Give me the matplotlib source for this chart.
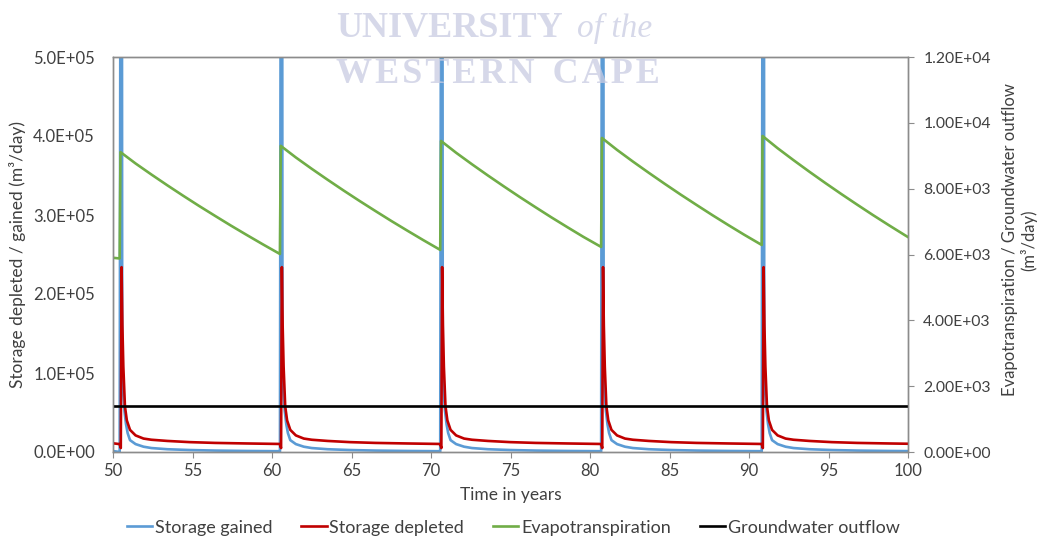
import matplotlib
matplotlib.use("Agg")
import matplotlib.pyplot as plt
from matplotlib.ticker import FuncFormatter

# ---------------- data ----------------
spike_years = [50.42, 60.5, 70.58, 80.7, 90.8]

# storage gained (left axis), profile after each recharge event
gained_offsets = [0.0, 0.11, 0.16, 0.22, 0.3, 0.4, 0.5, 0.65, 1.0, 1.5, 2.0, 3.0, 4.4, 6.0, 8.0, 10.0]
gained_values = [0.0, 1.5e6, 1.2e5, 7.5e4, 5.2e4, 3.5e4, 2.4e4, 1.5e4, 1.0e4, 6.7e3, 5.0e3,
                 3.5e3, 2.5e3, 1.8e3, 1.3e3, 1.0e3]
gained_start = (50.0, 1.2e3)

# storage depleted (left axis), profile after each recharge event
depleted_offsets = [0.0, 0.07, 0.12, 0.17, 0.23, 0.33, 0.45, 0.65, 1.0, 1.5, 2.0, 3.0, 4.4, 6.0, 8.0, 10.0]
depleted_values = [1.0e4, 5.0e3, 2.34e5, 1.6e5, 1.08e5, 5.8e4, 4.0e4, 2.8e4, 2.1e4, 1.7e4, 1.55e4,
                   1.4e4, 1.25e4, 1.15e4, 1.08e4, 1.02e4]
depleted_start = (50.0, 1.1e4)

# evapotranspiration (right axis)
et_offsets = [0.0, 0.05, 1, 2, 3, 4, 5, 6, 7, 8, 9]
et_cycles = [
    [5880, 9110, 8765, 8428, 8101, 7783, 7473, 7173, 6877, 6591, 6310],
    [6015, 9300, 8948, 8603, 8270, 7945, 7629, 7322, 7020, 6728, 6441],
    [6140, 9450, 9091, 8740, 8400, 8070, 7747, 7434, 7126, 6829, 6537],
    [6230, 9540, 9178, 8823, 8481, 8147, 7821, 7506, 7195, 6894, 6600],
    [6290, 9600, 9229, 8866, 8514, 8172, 7839, 7515, 7197, 6889, 6588],
]
et_start = (50.0, 5900)
et_end = (100.0, 6530)

# groundwater outflow (right axis)
gw_years = [50, 100]
gw_values = [1400, 1400]

x_ticks = list(range(50, 101, 5))
left_ticks = [0, 1e5, 2e5, 3e5, 4e5, 5e5]
right_ticks = [0, 2e3, 4e3, 6e3, 8e3, 1e4, 1.2e4]

# ---------------- build series ----------------
def build(start, offsets, values):
    xs, ys = [start[0]], [start[1]]
    for s in spike_years:
        for o, v in zip(offsets, values):
            xs.append(s + o)
            ys.append(v)
    return xs, ys

gx, gy = build(gained_start, gained_offsets, gained_values)
dx, dy = build(depleted_start, depleted_offsets, depleted_values)
ex, ey = [et_start[0]], [et_start[1]]
for s, cyc in zip(spike_years, et_cycles):
    for o, v in zip(et_offsets, cyc):
        ex.append(s + o)
        ey.append(v)
ex.append(et_end[0]); ey.append(et_end[1])

# ---------------- plot ----------------
plt.rcParams['font.family'] = ['Lato', 'DejaVu Sans']
fig = plt.figure(figsize=(10.39, 5.4), dpi=100)
ax = fig.add_axes([113/1039, 1-452/540, (908-113)/1039, (452-57)/540])
ax2 = ax.twinx()

blue = '#5B9BD5'; red = '#C00000'; green = '#70AD47'
lw = 1.9
l1, = ax.plot(gx, gy, color=blue, lw=lw, label='Storage gained', zorder=2)
l2, = ax.plot(dx, dy, color=red, lw=lw, label='Storage depleted', zorder=3)
l3, = ax2.plot(ex, ey, color=green, lw=lw, label='Evapotranspiration')
l4, = ax2.plot(gw_years, gw_values, color='black', lw=lw, label='Groundwater outflow')

ax.set_xlim(50, 100)
ax.set_ylim(0, 5e5)
ax2.set_ylim(0, 1.2e4)
ax.set_xticks(x_ticks)
ax.set_yticks(left_ticks)
ax2.set_yticks(right_ticks)
ax.yaxis.set_major_formatter(FuncFormatter(lambda v, p: '%.1E' % v))
ax2.yaxis.set_major_formatter(FuncFormatter(lambda v, p: '%.2E' % v))

tick_col = '#404040'
for a in (ax, ax2):
    for sp in a.spines.values():
        sp.set_color('#8C8C8C')
        sp.set_linewidth(1.0)
ax.tick_params(axis='x', length=4, color='#8C8C8C', labelsize=12, labelcolor=tick_col, pad=4)
ax.tick_params(axis='y', length=0, labelsize=12, labelcolor=tick_col, pad=13)
ax2.tick_params(axis='y', length=4, color='#8C8C8C', labelsize=11.3, labelcolor=tick_col, pad=7)

ax.set_xlabel('Time in years', fontsize=12.5, color=tick_col, labelpad=6)
ax.set_ylabel('Storage depleted / gained (m³/day)', fontsize=12.5, color=tick_col, labelpad=5)
fig.text(1020/1039, 1-240/540, 'Evapotranspiration / Groundwater outflow\n(m³/day)',
         rotation=90, ha='center', va='center', multialignment='center',
         fontsize=12, color=tick_col, linespacing=1.15)

fig.legend(handles=[l1, l2, l3, l4], loc='lower center', bbox_to_anchor=(0.494, -0.022), ncol=4,
           frameon=False, fontsize=13, handlelength=1.4, handletextpad=0.15, columnspacing=1.6,
           labelcolor=tick_col)

# watermark
wm = '#C9CCE2'
fig.text(336/1039, 1-37/540, 'UNIVERSITY', fontsize=26, family='Liberation Serif', color=wm,
         alpha=0.75, ha='left', va='baseline', fontweight='bold')
fig.text(577/1039, 1-37/540, 'of the', fontsize=24, family='Liberation Serif', style='italic',
         color=wm, alpha=0.75, ha='left', va='baseline')
fig.text(336/1039, 1-83/540, 'W\u200aE\u200aS\u200aT\u200aE\u200aR\u200aN  C\u200aA\u200aP\u200aE',
         fontsize=26, family='Liberation Serif',
         color=wm, alpha=0.75, ha='left', va='baseline', fontweight='bold')

fig.savefig('out.png', dpi=100)
